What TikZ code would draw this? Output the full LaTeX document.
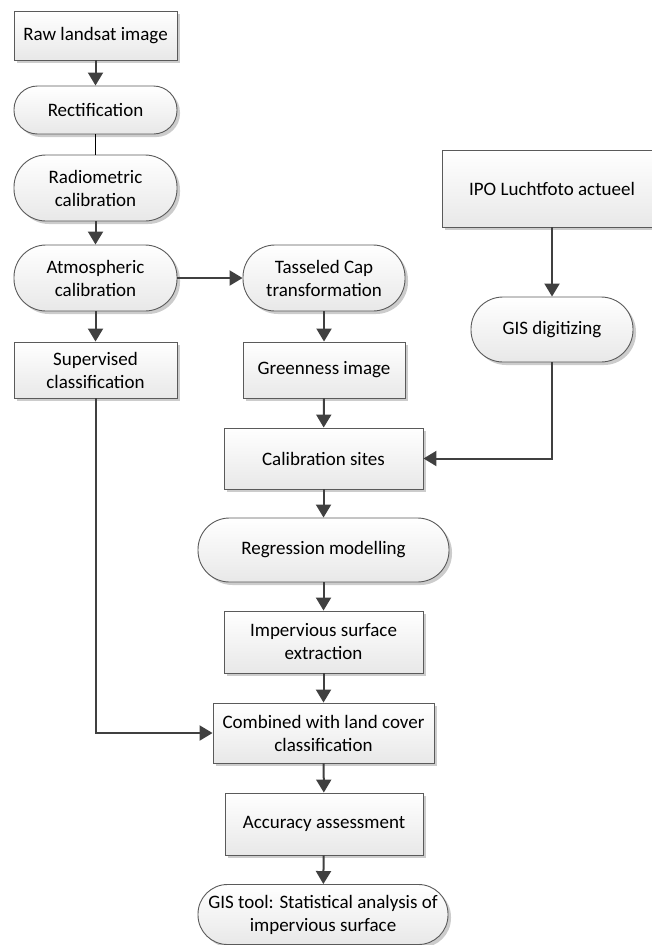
\documentclass[tikz,border=0pt]{standalone}
\usepackage{fontspec}
\setmainfont{Carlito}
\usetikzlibrary{arrows.meta,shadows}
\definecolor{edgecol}{HTML}{5A5A5A}
\definecolor{arrcol}{HTML}{404040}
\tikzset{
  base/.style={draw=edgecol, line width=0.9pt, top color=white, bottom color=black!9,
    inner sep=0pt, align=center, font=\fontsize{19}{23}\selectfont,
    drop shadow={shadow xshift=3pt, shadow yshift=-3pt, fill=black!40, opacity=0.5}},
  procbox/.style={base, rectangle},
  termbox/.style={base, rectangle, rounded corners=#1},
  flow/.style={arrcol, line width=2pt, -{Triangle[length=13pt,width=15pt]}},
  plainline/.style={black, line width=0.8pt},
}
\begin{document}
\begin{tikzpicture}[x=1pt,y=-1pt]
\useasboundingbox (0,0) rectangle (651,945);
% left column
\node[procbox, minimum width=163pt, minimum height=49pt] (raw) at (95.5,35.5) {Raw landsat image};
\node[termbox=23.5pt, minimum width=163pt, minimum height=48pt] (rect) at (95.5,110) {Rectification};
\node[termbox=32pt, minimum width=163pt, minimum height=66pt] (radio) at (95.5,188) {Radiometric\\calibration};
\node[termbox=32pt, minimum width=163pt, minimum height=66pt] (atmos) at (95.5,278) {Atmospheric\\calibration};
\node[procbox, minimum width=163pt, minimum height=56pt] (superv) at (95.5,370) {Supervised\\classification};
% middle column
\node[termbox=32pt, minimum width=162pt, minimum height=66pt] (tass) at (324,278) {Tasseled Cap\\transformation};
\node[procbox, minimum width=162pt, minimum height=56pt] (green) at (324,370) {Greenness image};
\node[procbox, minimum width=199pt, minimum height=61pt] (calib) at (323.5,458.5) {Calibration sites};
\node[termbox=31.5pt, minimum width=251pt, minimum height=64pt] (regr) at (323.5,550) {Regression modelling};
\node[procbox, minimum width=199pt, minimum height=62pt] (imperv) at (323.5,642) {Impervious surface\\extraction};
\node[procbox, minimum width=221pt, minimum height=60pt] (comb) at (323.5,733) {Combined with land cover\\classification};
\node[procbox, minimum width=198pt, minimum height=62pt] (acc) at (324,824) {Accuracy assessment};
\node[termbox=29.5pt, minimum width=250pt, minimum height=60pt] (gist) at (323,914.5) {GIS tool: Statistical analysis of\\impervious surface};
% right column
\node[procbox, minimum width=220pt, minimum height=77pt] (ipo) at (552,188.5) {IPO Luchtfoto actueel};
\node[termbox=32pt, minimum width=162pt, minimum height=65pt] (gisd) at (552,329.5) {GIS digitizing};
% connectors
\draw[flow] (raw) -- (rect);
\draw[plainline] (rect) -- (radio);
\draw[flow] (radio) -- (atmos);
\draw[flow] (atmos) -- (tass);
\draw[flow] (atmos) -- (superv);
\draw[flow] (tass) -- (green);
\draw[flow] (green) -- (calib);
\draw[flow] (ipo) -- (gisd);
\draw[flow] (gisd.south) |- (calib.east);
\draw[flow] (calib) -- (regr);
\draw[flow] (regr) -- (imperv);
\draw[flow] (imperv) -- (comb);
\draw[flow] (superv.south) |- (comb.west);
\draw[flow] (comb) -- (acc);
\draw[flow] (acc) -- (gist);
\end{tikzpicture}
\end{document}
